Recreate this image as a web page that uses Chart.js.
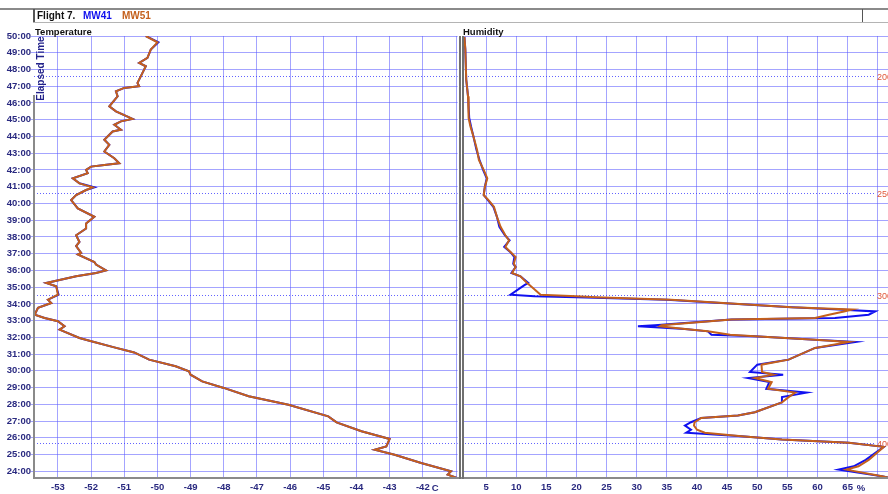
<!DOCTYPE html>
<html>
<head>
<meta charset="utf-8">
<script src="https://cdn.jsdelivr.net/npm/chart.js@4.4.1/dist/chart.umd.min.js"></script>
<style>
  body { margin: 0; background: #fff; font-family: "Liberation Sans", Arial, sans-serif; }
  #wrap { position: relative; width: 888px; height: 494px; overflow: hidden; background: #fff; }
  .abs { position: absolute; }
  #hdrTop { left: 0; top: 8px; width: 888px; height: 0; border-top: 2px solid #8a8a8a; }
  #hdrBot { left: 33px; top: 22px; width: 855px; height: 0; border-top: 1px solid #b4b4b4; }
  #hdrL { left: 33px; top: 9px; width: 0; height: 13px; border-left: 2px solid #555; }
  #hdrR { left: 862px; top: 9px; width: 0; height: 13px; border-left: 1px solid #555; }
  #hdrText { left: 37px; top: 10px; font-size: 10px; font-weight: bold; white-space: pre; }
  #hdrText span { position: absolute; top: 0; }
  .title { top: 26px; font-size: 9.5px; font-weight: bold; color: #111; }
  #yName { left: 8px; top: 63px; font-size: 10px; font-weight: bold; color: #22228a; transform: rotate(-90deg); transform-origin: center; white-space: nowrap; }
  #axisY { left: 33px; top: 95px; width: 0; height: 384px; border-left: 2px solid #8a8a8a; }
  #axisX { left: 33px; top: 477px; width: 855px; height: 0; border-top: 2px solid #8a8a8a; }
  #divA { left: 459px; top: 36px; width: 0; height: 443px; border-left: 2px solid #707070; }
  #divB { left: 462px; top: 36px; width: 0; height: 443px; border-left: 2px solid #707070; }
  canvas { position: absolute; top: 0; }
</style>
</head>
<body>
<div id="wrap">
  <canvas id="tempChart" style="left:0px" width="460" height="494"></canvas>
  <canvas id="humChart" style="left:462px" width="426" height="494"></canvas>
  <div class="abs" id="hdrTop"></div>
  <div class="abs" id="hdrBot"></div>
  <div class="abs" id="hdrL"></div>
  <div class="abs" id="hdrR"></div>
  <div class="abs" id="hdrText"><span style="left:0;color:#111">Flight 7.</span><span style="left:46px;color:#1010ee">MW41</span><span style="left:85px;color:#c4601c">MW51</span></div>
  <div class="abs title" style="left:35px">Temperature</div>
  <div class="abs title" style="left:463px">Humidity</div>
  <div class="abs" id="axisY"></div>
  <div class="abs" id="axisX"></div>
  <div class="abs" id="divA"></div>
  <div class="abs" id="divB"></div>
  <div class="abs" id="yName">Elapsed Time</div>
</div>
<script>
// elapsed time in minutes, temperature in C
const tempMinutes = [50.0, 49.62, 49.19, 48.69, 48.39, 48.19, 47.8, 47.2, 47.0, 46.9, 46.7, 46.4, 45.8, 45.5, 45.05, 44.9, 44.7, 44.4, 44.3, 43.8, 43.5, 43.1, 42.7, 42.4, 42.3, 42.2, 42.0, 41.8, 41.5, 41.2, 40.96, 40.8, 40.5, 40.2, 39.7, 39.2, 38.8, 38.5, 38.1, 37.7, 37.45, 37.05, 36.95, 36.5, 36.35, 36.0, 35.85, 35.65, 35.25, 35.05, 34.55, 34.25, 34.05, 33.76, 33.35, 33.16, 32.96, 32.66, 32.46, 31.96, 31.8, 31.4, 31.1, 30.67, 30.27, 29.97, 29.77, 29.37, 28.98, 28.48, 27.98, 27.28, 26.92, 26.39, 25.93, 25.49, 25.29, 24.99, 24.5, 24.0, 23.8, 23.6];
const tempMW51 = [-50.35, -50.0, -50.2, -50.3, -50.55, -50.35, -50.45, -50.6, -50.55, -51.0, -51.25, -51.2, -51.45, -51.25, -50.75, -51.1, -51.3, -51.1, -51.35, -51.6, -51.45, -51.6, -51.3, -51.15, -51.6, -52.0, -52.15, -52.1, -52.55, -52.35, -51.95, -52.15, -52.45, -52.6, -52.4, -51.9, -52.15, -52.15, -52.45, -52.35, -52.45, -52.3, -52.4, -51.9, -51.85, -51.55, -51.85, -52.45, -53.35, -53.05, -53.0, -53.3, -53.2, -53.6, -53.7, -53.4, -53.0, -52.8, -52.95, -52.35, -52.05, -51.3, -50.7, -50.25, -49.45, -49.05, -49.0, -48.65, -48.0, -47.25, -46.05, -44.85, -44.6, -43.85, -43.0, -43.1, -43.45, -42.85, -42.05, -41.15, -41.25, -40.97];
const tempMW41 = [-50.35, -49.97, -50.2, -50.3, -50.55, -50.35, -50.45, -50.6, -50.55, -51.0, -51.25, -51.2, -51.45, -51.25, -50.75, -51.1, -51.3, -51.1, -51.35, -51.6, -51.45, -51.6, -51.3, -51.15, -51.6, -52.0, -52.15, -52.1, -52.55, -52.35, -51.9, -52.15, -52.45, -52.6, -52.4, -51.9, -52.15, -52.15, -52.45, -52.35, -52.45, -52.3, -52.4, -51.9, -51.85, -51.55, -51.85, -52.45, -53.35, -53.05, -52.98, -53.3, -53.2, -53.6, -53.7, -53.4, -53.0, -52.8, -52.95, -52.35, -52.05, -51.3, -50.7, -50.25, -49.45, -49.05, -49.0, -48.65, -48.0, -47.25, -46.05, -44.85, -44.6, -43.85, -43.0, -43.1, -43.45, -42.85, -42.05, -41.15, -41.25, -40.97];

// elapsed time in minutes, relative humidity in %
const humMinutes = [49.95, 49.2, 47.4, 46.4, 45.1, 44.6, 44.0, 43.2, 42.6, 42.0, 41.5, 41.0, 40.5, 40.2, 39.8, 39.2, 38.6, 38.1, 37.8, 37.4, 37.1, 36.8, 36.4, 36.2, 35.85, 35.65, 35.25, 35.1, 34.55, 34.45, 34.4, 34.25, 33.8, 33.66, 33.55, 33.35, 33.16, 33.06, 32.73, 32.66, 32.5, 32.36, 32.16, 32.06, 31.86, 31.73, 31.37, 30.67, 30.37, 29.93, 29.77, 29.57, 29.33, 28.93, 28.7, 28.43, 28.12, 27.53, 27.33, 27.19, 26.93, 26.73, 26.48, 26.3, 26.1, 25.9, 25.71, 25.46, 24.68, 24.3, 24.1, 23.7, 23.6];
const humMW51 = [1.4, 1.55, 1.7, 2.0, 2.1, 2.4, 2.9, 3.5, 3.8, 4.6, 5.2, 4.8, 4.6, 5.4, 6.3, 6.8, 7.4, 8.2, 8.8, 8.2, 9.05, 9.9, 9.6, 9.9, 9.3, 10.7, 11.8, 12.3, 14.05, 20.0, 23.2, 35.7, 55.7, 65.7, 64.4, 61.9, 59.6, 45.7, 34.1, 33.8, 38.0, 41.8, 45.5, 49.6, 59.6, 65.2, 59.6, 55.2, 50.7, 50.8, 52.7, 49.6, 52.4, 51.8, 56.3, 55.2, 54.1, 49.6, 46.8, 40.7, 39.6, 39.5, 40.0, 41.3, 47.4, 54.1, 65.2, 71.0, 68.5, 66.8, 64.8, 70.7, 72.0];
const humMW41 = [1.4, 1.55, 1.7, 2.0, 2.2, 2.5, 2.9, 3.4, 3.9, 4.5, 5.1, 4.8, 4.6, 5.3, 6.2, 6.8, 7.2, 8.1, 8.9, 8.0, 9.0, 9.7, 9.5, 9.9, 9.2, 10.7, 12.0, 11.3, 9.05, 13.0, 20.0, 35.0, 55.7, 63.5, 69.6, 68.5, 62.9, 45.7, 33.0, 30.2, 38.0, 41.8, 42.4, 49.6, 59.6, 66.3, 59.6, 55.2, 50.0, 48.8, 54.3, 48.5, 52.0, 51.5, 58.2, 54.1, 54.1, 49.6, 46.8, 40.7, 39.0, 38.0, 39.0, 38.2, 47.4, 54.1, 65.2, 71.0, 68.0, 66.0, 63.5, 70.7, 72.0];

// pressure levels (hPa) reached at these elapsed times
const levelMinutes = [47.6, 40.6, 34.55, 25.72];
const levelLabels = ['200', '250', '300', '400'];

const ORANGE = '#c4601c';
const BLUE = '#1010f0';
const NAVY = '#2a2a80';
const GRID = 'rgba(90, 90, 255, 0.55)';
const FONT = { family: 'Liberation Sans, Arial, sans-serif', size: 9.5, weight: 'bold' };

function pairs(xs, ys) {
  return xs.map((x, i) => ({ x: x, y: ys[i] }));
}

// dotted horizontal lines for the pressure levels, labels on the far right
function levelPlugin(withLabels) {
  return {
    id: 'levels',
    beforeDatasetsDraw(chart) {
      const ctx = chart.ctx;
      const area = chart.chartArea;
      const y = chart.scales.y;
      ctx.save();
      ctx.strokeStyle = 'rgba(60, 60, 255, 0.8)';
      ctx.lineWidth = 1;
      ctx.setLineDash([1, 2]);
      levelMinutes.forEach((m, i) => {
        const py = Math.round(y.getPixelForValue(m)) + 0.5;
        ctx.beginPath();
        ctx.moveTo(area.left, py);
        ctx.lineTo(withLabels ? area.right - 13 : area.right, py);
        ctx.stroke();
        if (withLabels) {
          ctx.fillStyle = '#e0583a';
          ctx.font = '9px Liberation Sans, Arial, sans-serif';
          ctx.textBaseline = 'middle';
          ctx.fillText(levelLabels[i], area.right - 11, py + 1);
        }
      });
      ctx.restore();
    }
  };
}

// unit text after the last labelled tick
function unitPlugin(value, unit, dx) {
  return {
    id: 'unit',
    afterDraw(chart) {
      const ctx = chart.ctx;
      const px = chart.scales.x.getPixelForValue(value);
      ctx.save();
      ctx.fillStyle = NAVY;
      ctx.font = 'bold 9.5px Liberation Sans, Arial, sans-serif';
      ctx.textBaseline = 'middle';
      ctx.fillText(unit, px + dx, 488);
      ctx.restore();
    }
  };
}

const yScale = {
  type: 'linear',
  min: 23.6,
  max: 50,
  ticks: {
    stepSize: 1,
    includeBounds: false,
    color: NAVY,
    font: FONT,
    padding: 0,
    callback: v => v + ':00'
  },
  grid: { color: GRID, lineWidth: 1, tickLength: 3 },
  border: { display: false },
  afterFit: s => { s.width = 34; }
};

function xAxis(min, max, step, keep) {
  return {
    type: 'linear',
    min: min,
    max: max,
    ticks: {
      stepSize: step,
      includeBounds: false,
      color: NAVY,
      font: FONT,
      padding: 4,
      maxRotation: 0,
      autoSkip: false,
      callback: v => (keep(v) ? String(v) : '')
    },
    grid: { color: GRID, lineWidth: 1, drawTicks: false },
    border: { display: false },
    afterFit: s => { s.height = 16; }
  };
}

function lineSet(label, data, color) {
  return {
    label: label,
    data: data,
    showLine: true,
    borderColor: color,
    backgroundColor: color,
    borderWidth: 2,
    pointRadius: 0,
    tension: 0
  };
}

const common = {
  responsive: false,
  animation: false,
  plugins: { legend: { display: false }, tooltip: { enabled: false } },
  layout: { padding: { top: 36, left: 0, right: 0, bottom: 0 } }
};

new Chart(document.getElementById('tempChart'), {
  type: 'scatter',
  data: {
    datasets: [
      lineSet('MW51', pairs(tempMW51, tempMinutes), ORANGE),
      lineSet('MW41', pairs(tempMW41, tempMinutes), BLUE)
    ]
  },
  options: Object.assign({}, common, {
    scales: {
      x: xAxis(-53.72, -40.95, 1, v => v <= -42),
      y: yScale
    }
  }),
  plugins: [levelPlugin(false), unitPlugin(-42, 'C', 9)]
});

new Chart(document.getElementById('humChart'), {
  type: 'scatter',
  data: {
    datasets: [
      lineSet('MW51', pairs(humMW51, humMinutes), ORANGE),
      lineSet('MW41', pairs(humMW41, humMinutes), BLUE)
    ]
  },
  options: Object.assign({}, common, {
    scales: {
      x: xAxis(1, 71.7, 5, v => v <= 65),
      y: Object.assign({}, yScale, {
        display: true,
        ticks: Object.assign({}, yScale.ticks, { display: false }),
        grid: { color: GRID, lineWidth: 1, drawTicks: false },
        afterFit: s => { s.width = 0; }
      })
    }
  }),
  plugins: [levelPlugin(true), unitPlugin(65, '%', 9)]
});
</script>
</body>
</html>
